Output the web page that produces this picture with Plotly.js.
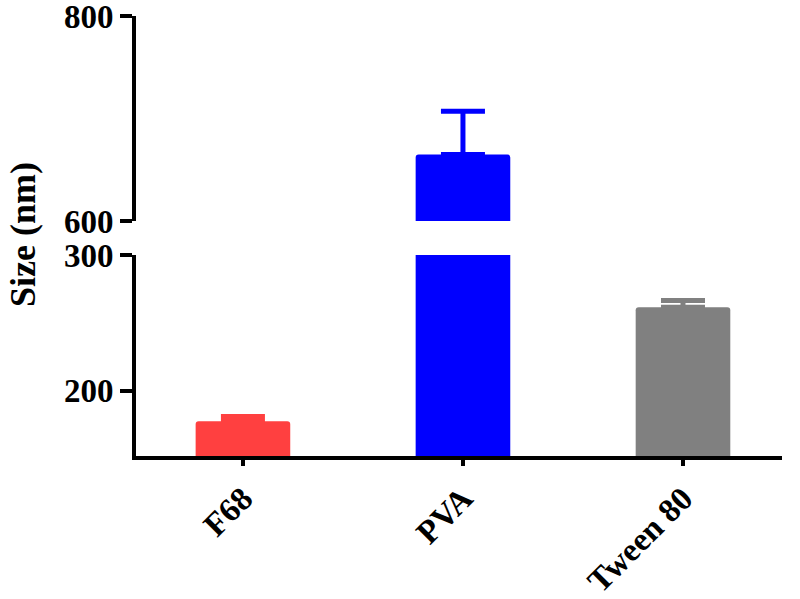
<!DOCTYPE html>
<html>
<head>
<meta charset="utf-8">
<script src="https://cdn.plot.ly/plotly-3.0.1.min.js"></script>
<style>html,body{margin:0;padding:0;background:#fff;}#chart{width:800px;height:599px;}</style>
</head>
<body>
<div id="chart"></div>
<script>
const categories = ['F68', 'PVA', 'Tween 80'];
const sizes = [177.5, 665, 261.5];
const errors = [3.5, 42, 5];
const colors = ['#FF4040', '#0000FF', '#808080'];
const lowerRange = [152, 300];
const upperRange = [600, 800];
const lowerTicks = [200, 300];
const upperTicks = [600, 800];

const traces = [];
categories.forEach((c, i) => {
  const broken = sizes[i] > lowerRange[1];
  traces.push({
    type: 'bar', x: [c], y: [sizes[i]], xaxis: 'x', yaxis: 'y',
    width: 0.43, marker: {color: colors[i], line: {width: 0}, cornerradius: 3},
    error_y: {type: 'data', array: [errors[i]], arrayminus: [0], symmetric: false,
      visible: !broken, color: colors[i], thickness: 5, width: 22},
    hoverinfo: 'x+y', showlegend: false
  });
  if (broken) {
    traces.push({
      type: 'bar', x: [c], y: [sizes[i]], xaxis: 'x', yaxis: 'y2',
      width: 0.43, marker: {color: colors[i], line: {width: 0}, cornerradius: 3},
      error_y: {type: 'data', array: [errors[i]], arrayminus: [0], symmetric: false,
        color: colors[i], thickness: 5, width: 22},
      hoverinfo: 'x+y', showlegend: false
    });
  }
});

const font = {family: '"Liberation Serif", "Times New Roman", serif', color: '#000'};
const axisCommon = {
  showline: true, linecolor: '#000', linewidth: 4, showgrid: false, zeroline: false,
  ticks: 'outside', ticklen: 12, tickwidth: 4, tickcolor: '#000',
  ticklabeloverflow: 'allow',
  tickfont: Object.assign({}, font, {size: 33, weight: 'bold'})
};

const layout = {
  width: 800, height: 599,
  margin: {l: 136, r: 18, t: 16, b: 143},
  paper_bgcolor: '#fff', plot_bgcolor: '#fff',
  barmode: 'overlay', showlegend: false,
  font: font,
  xaxis: Object.assign({}, axisCommon, {
    type: 'category', range: [-0.486, 2.45], anchor: 'y', tickangle: -45, ticklen: 6,
    tickfont: Object.assign({}, font, {size: 33, weight: 'bold'})
  }),
  yaxis: Object.assign({}, axisCommon, {
    domain: [0, 0.4568], range: lowerRange, tickvals: lowerTicks, anchor: 'x'
  }),
  yaxis2: Object.assign({}, axisCommon, {
    domain: [0.534, 1], range: upperRange, tickvals: upperTicks, anchor: 'x'
  }),
  annotations: [{
    text: 'Size (nm)', xref: 'paper', yref: 'paper', x: -0.176, y: 0.503,
    xanchor: 'center', yanchor: 'middle', textangle: -90, showarrow: false,
    font: Object.assign({}, font, {size: 36, weight: 'bold'})
  }]
};

Plotly.newPlot('chart', traces, layout, {displayModeBar: false, staticPlot: true});
</script>
</body>
</html>
